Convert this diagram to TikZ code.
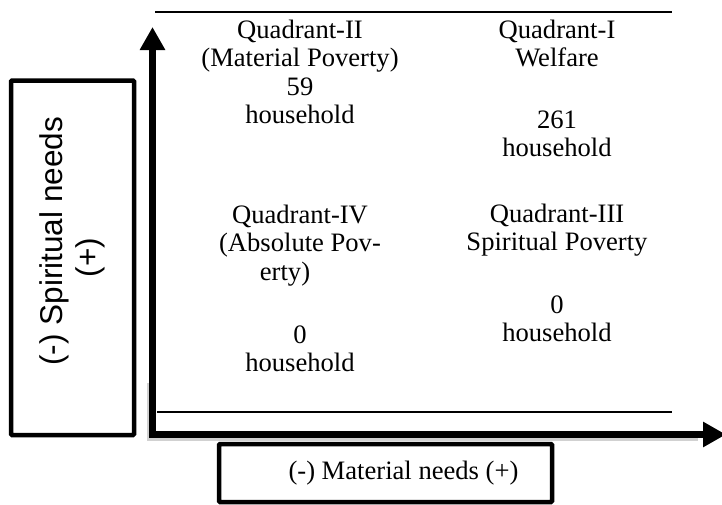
\documentclass[tikz,border=0pt]{standalone}
\usepackage{fontspec}
\setmainfont{Liberation Serif}
\setsansfont{Liberation Sans}
\usetikzlibrary{arrows.meta}
\begin{document}
\begin{tikzpicture}[x=1pt, y=-1pt, every node/.style={inner sep=0pt}]
    \tikzset{
        quadtext/.style={align=center, anchor=north, font=\fontsize{26.6}{28.5}\selectfont},
        labelbox/.style={draw, line width=4.5pt, rounded corners=1pt},
        axisline/.style={line width=7.5pt,
            {Triangle[length=23pt, width=24pt]}-{Triangle[length=23pt, width=24pt]}}
    }
    \useasboundingbox (0,0) rectangle (722,504);
    % axes
    \coordinate (origin) at (152.5,434.5);
    \coordinate (ytop) at (152.5,27);
    \coordinate (xend) at (726,434.5);
    \draw[black!18, line width=7pt, transform canvas={shift={(-2pt,-3pt)}}]
        (152.5,380) -- (origin) -- (700,434.5);
    \draw[axisline] (ytop) -- (origin) -- (xend);
    \draw[line width=1.6pt] (155,12) -- (672,12);
    \draw[line width=1.6pt] (157,412) -- (672,412);
    % quadrants
    \node[quadtext] (q2) at (300,19.8) {Quadrant-II\\(Material Poverty)\\59\\household};
    \node[quadtext] (q1) at (557,19.8) {Quadrant-I\\Welfare\\[33pt]261\\household};
    \node[quadtext] (q4) at (300,204.8) {Quadrant-IV\\(Absolute Pov-\\erty)\hspace*{30pt}\mbox{}\\[34.5pt]0\\household};
    \node[quadtext] (q3) at (557,203.8) {Quadrant-III\\Spiritual Poverty\\[34pt]0\\household};
    % axis labels
    \node[labelbox, rotate=90, minimum width=354.5pt, minimum height=123pt, align=center,
        font=\sffamily\fontsize{31.5}{36}\selectfont] (spirit) at (72.5,257.75)
        {\hspace*{33pt}(-) Spiritual needs\\(+)};
    \node[labelbox, minimum width=333pt, minimum height=58pt,
        font=\fontsize{26.6}{30}\selectfont] (material) at (385.5,473)
        {\hspace*{36pt}(-) Material needs (+)};
\end{tikzpicture}
\end{document}
